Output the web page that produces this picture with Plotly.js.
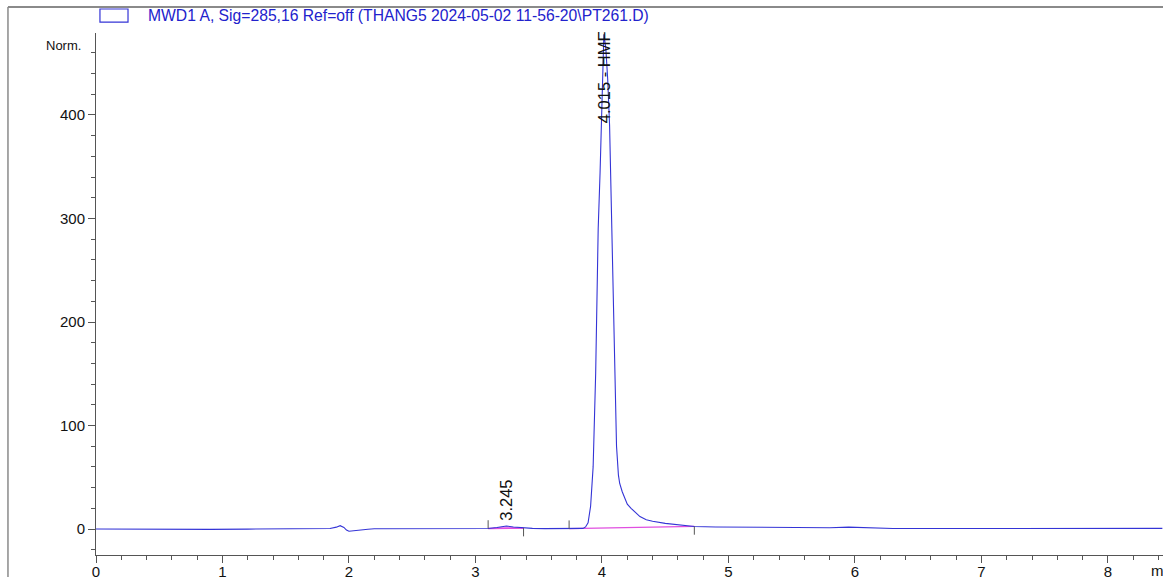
<!DOCTYPE html>
<html>
<head>
<meta charset="utf-8">
<script src="https://cdn.plot.ly/plotly-3.0.1.min.js"></script>
<style>
html,body{margin:0;padding:0;background:#fff;overflow:hidden;}
#chart{width:1163px;height:577px;}
</style>
</head>
<body>
<div id="chart"></div>
<script>
// Retention time (min) and signal (mAU, Norm.)
const timeMin = [0.00,0.30,0.60,0.90,1.20,1.50,1.70,1.85,1.90,1.93,1.96,1.98,2.00,2.04,2.10,2.15,2.20,2.50,2.80,3.00,3.10,3.17,3.245,3.30,3.38,3.45,3.55,3.70,3.80,3.85,3.87,3.89,3.91,3.93,3.95,3.96,3.97,3.985,3.995,4.005,4.015,4.03,4.045,4.06,4.075,4.09,4.10,4.115,4.13,4.14,4.16,4.18,4.20,4.23,4.27,4.30,4.35,4.40,4.50,4.60,4.73,4.90,5.20,5.50,5.80,5.95,6.10,6.30,6.60,7.00,7.50,8.00,8.43];
const signal  = [0.0,-0.3,-0.2,-0.3,-0.1,0.0,0.3,0.5,1.8,3.2,1.5,-1.0,-2.2,-1.5,-0.8,-0.2,0.2,0.2,0.3,0.4,0.5,1.5,2.9,2.0,0.9,0.6,0.4,0.3,0.3,0.6,2,6,22,60,150,220,290,345,385,440,478,465,435,390,300,200,140,80,52,44,36,29,24,20,15,12,9,7.5,5.5,4,2.5,2,1.6,1.2,1.2,1.8,1.0,0.5,0.5,0.6,0.5,0.6,0.6];

// Integrated peaks
const peakRT     = [3.245, 4.015];
const peakLabels = ["3.245", "4.015 - HMF"];
const intStart   = [3.10, 3.74];
const intEnd     = [3.38, 4.73];
const baseStartY = [0.5, 0.3];
const baseEndY   = [0.9, 2.5];

const xTickVals = [0,1,2,3,4,5,6,7,8];
const yTickVals = [0,100,200,300,400];
const legendText = "MWD1 A, Sig=285,16 Ref=off (THANG5 2024-05-02 11-56-20\\PT261.D)";

const blue = '#3434d6';
const pink = '#e04fe0';
const axisCol = '#555555';
const fam = 'Liberation Sans, Arial, sans-serif';

const traces = [];
// small peak fill
const sx = [], sy = [];
for (let i = 0; i < timeMin.length; i++) {
  if (timeMin[i] >= intStart[0] && timeMin[i] <= intEnd[0]) { sx.push(timeMin[i]); sy.push(signal[i]); }
}
traces.push({x:[intStart[0], intEnd[0]], y:[baseStartY[0], baseEndY[0]], mode:'lines', line:{color:pink,width:1.2}, hoverinfo:'skip', showlegend:false});
traces.push({x:sx, y:sy, mode:'lines', fill:'tonexty', fillcolor:'rgba(230,110,230,0.45)', line:{color:'rgba(0,0,0,0)',width:0}, hoverinfo:'skip', showlegend:false});
// baselines
for (let k = 0; k < intStart.length; k++) {
  traces.push({x:[intStart[k], intEnd[k]], y:[baseStartY[k], baseEndY[k]], mode:'lines', line:{color:pink,width:1.3}, hoverinfo:'skip', showlegend:false});
}
// signal
traces.push({x:timeMin, y:signal, mode:'lines', line:{color:blue,width:1.1,shape:'linear'}, showlegend:false});

const shapes = [];
// report frame
shapes.push({type:'line', xref:'paper', yref:'paper', x0:-0.0825, x1:1.1, y0:1.0498, y1:1.0498, line:{color:'#8a8a8a',width:2}});
shapes.push({type:'line', xref:'paper', yref:'paper', x0:-0.0825, x1:-0.0825, y0:1.0498, y1:-0.1, line:{color:'#8a8a8a',width:1.5}});
// legend box
shapes.push({type:'rect', xref:'paper', yref:'paper', x0:0.0037, x1:0.030, y0:1.0210, y1:1.0460, line:{color:blue,width:1.2}, fillcolor:'rgba(0,0,0,0)'});
// integration start/end ticks
for (let k = 0; k < intStart.length; k++) {
  shapes.push({type:'line', xref:'x', yref:'y', x0:intStart[k], x1:intStart[k], y0:baseStartY[k], y1:baseStartY[k]+8, line:{color:axisCol,width:1}});
  shapes.push({type:'line', xref:'x', yref:'y', x0:intEnd[k], x1:intEnd[k], y0:baseEndY[k], y1:baseEndY[k]-8, line:{color:axisCol,width:1}});
}

const annotations = [];
annotations.push({xref:'paper', yref:'paper', x:0.0465, y:1.0326, xanchor:'left', yanchor:'middle', text:legendText, showarrow:false, font:{family:fam, size:15.7, color:'#2222cc'}});
annotations.push({xref:'paper', yref:'y', x:-0.012, y:467, xanchor:'right', yanchor:'middle', text:'Norm.', showarrow:false, font:{family:fam, size:13, color:'#111'}});
annotations.push({xref:'x', yref:'paper', x:8.325, y:-0.03, xanchor:'left', yanchor:'middle', text:'min', showarrow:false, font:{family:fam, size:15, color:'#111'}});
const labelBase = [6, 390];
for (let k = 0; k < peakRT.length; k++) {
  annotations.push({xref:'x', yref:'y', x:peakRT[k], y:labelBase[k], xanchor:'center', yanchor:'bottom', textangle:-90, text:peakLabels[k], showarrow:false, font:{family:fam, size:16.5, color:'#111'}});
}

const layout = {
  width:1163, height:577,
  margin:{l:96, r:0, t:33, b:22, pad:0},
  paper_bgcolor:'#fff', plot_bgcolor:'#fff',
  showlegend:false,
  font:{family:fam, size:15, color:'#111'},
  xaxis:{range:[0,8.435], showgrid:false, zeroline:false, showline:true, linecolor:axisCol, linewidth:1,
         ticks:'outside', ticklen:7, tickcolor:axisCol, tickvals:xTickVals, ticktext:xTickVals.map(String),
         ticklabelstandoff:-4,
         tickfont:{size:15}, minor:{dtick:0.2, ticks:'outside', ticklen:4, tickcolor:axisCol, showgrid:false}},
  yaxis:{range:[-25.1,479.2], showgrid:false, zeroline:false, showline:true, linecolor:axisCol, linewidth:1,
         ticks:'outside', ticklen:7, tickcolor:axisCol, tickvals:yTickVals, ticktext:yTickVals.map(String),
         tickfont:{size:15}, minor:{dtick:20, ticks:'outside', ticklen:4, tickcolor:axisCol, showgrid:false}},
  shapes:shapes, annotations:annotations
};

Plotly.newPlot('chart', traces, layout, {staticPlot:true, displayModeBar:false});
</script>
</body>
</html>
